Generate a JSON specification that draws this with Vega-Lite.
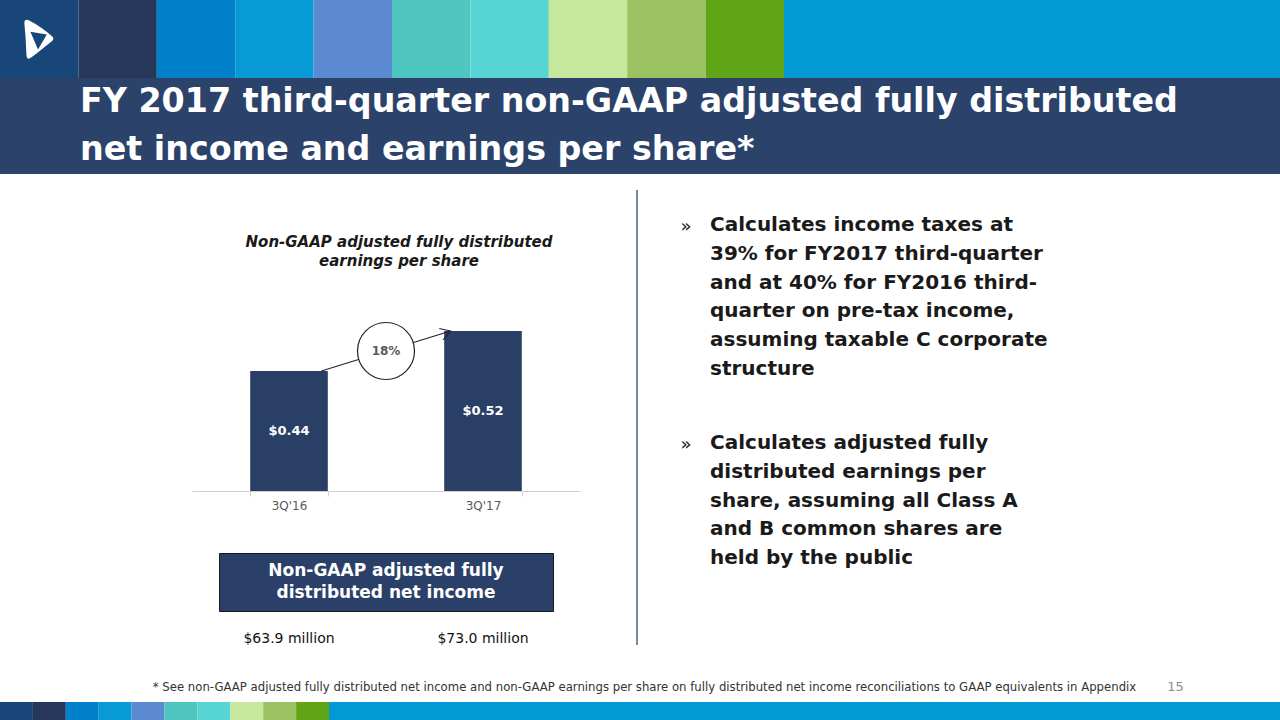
{
  "$schema": "https://vega.github.io/schema/vega-lite/v6.json",
  "padding": 0,
  "background": "#FFFFFF",
  "spacing": 0,
  "config": {
    "view": {"stroke": null},
    "font": "DejaVu Sans",
    "concat": {"spacing": 0}
  },
  "datasets": {
    "palette": [
      {"seg": "s1"}, {"seg": "s2"}, {"seg": "s3"}, {"seg": "s4"}, {"seg": "s5"},
      {"seg": "s6"}, {"seg": "s7"}, {"seg": "s8"}, {"seg": "s9"}, {"seg": "s10"}
    ],
    "eps": [
      {"period": "3Q'16", "eps": 0.44, "net_income_musd": 63.9},
      {"period": "3Q'17", "eps": 0.52, "net_income_musd": 73.0}
    ],
    "growth": [
      {"from": "3Q'16", "to": "3Q'17", "from_eps": 0.44, "to_eps": 0.52, "growth": "18%"}
    ],
    "slide_title": [
      {"line": 1, "text": "FY 2017 third-quarter non-GAAP adjusted fully distributed"},
      {"line": 2, "text": "net income and earnings per share*"}
    ],
    "bullets": [
      {"bullet": 1, "text": "Calculates income taxes at\n39% for FY2017 third-quarter\nand at 40% for FY2016 third-\nquarter on pre-tax income,\nassuming taxable C corporate\nstructure"},
      {"bullet": 2, "text": "Calculates adjusted fully\ndistributed earnings per\nshare, assuming all Class A\nand B common shares are\nheld by the public"}
    ],
    "box": [
      {"line": 1, "text": "Non-GAAP adjusted fully"},
      {"line": 2, "text": "distributed net income"}
    ],
    "footnote": [
      {"part": "note", "text": "* See non-GAAP adjusted fully distributed net income and non-GAAP earnings per share on fully distributed net income reconciliations to GAAP equivalents in Appendix"},
      {"part": "page", "text": "15"}
    ]
  },
  "vconcat": [
    {
      "hconcat": [
        {
          "width": 784,
          "height": 78,
          "layer": [
            {
              "data": {"name": "palette"},
              "mark": {"type": "rect"},
              "encoding": {
                "x": {"field": "seg", "type": "ordinal", "sort": null, "axis": null,
                      "scale": {"domain": ["s1","s2","s3","s4","s5","s6","s7","s8","s9","s10"], "paddingInner": 0, "paddingOuter": 0}},
                "color": {"field": "seg", "type": "nominal", "legend": null,
                          "scale": {"domain": ["s1","s2","s3","s4","s5","s6","s7","s8","s9","s10"],
                                    "range": ["#184679","#263759","#0081C9","#089AD7","#5C8AD0","#50C6C0","#56D5D4","#C6E89D","#9AC262","#5FA516"]}}
              }
            },
            {
              "data": {"values": [{"seg": "s1"}]},
              "mark": {"type": "point", "shape": "M -0.74 -0.78 Q -0.76 -1.04 -0.5 -0.93 Q 0.1 -0.62 0.64 -0.14 Q 0.78 -0.01 0.63 0.11 Q 0.0 0.62 -0.4 0.93 Q -0.62 1.08 -0.64 0.8 Q -0.66 0.0 -0.74 -0.78 Z M -0.44 -0.36 L -0.06 0.52 L 0.38 -0.22 Z",
                       "size": 1600, "filled": true, "fill": "#FFFFFF", "opacity": 1, "strokeWidth": 0},
              "encoding": {
                "x": {"field": "seg", "type": "ordinal", "sort": null, "axis": null}
              }
            }
          ]
        },
        {"width": 496, "height": 78, "view": {"fill": "#0399D5"}, "data": {"values": []}, "mark": "point"}
      ],
      "spacing": 0,
      "bounds": "flush"
    },
    {
      "hconcat": [
        {"width": 80, "height": 96, "view": {"fill": "#2B426B"}, "data": {"values": []}, "mark": "point"},
        {
          "width": 1200,
          "height": 96,
          "view": {"fill": "#2B426B"},
          "data": {"name": "slide_title"},
          "mark": {"type": "text", "align": "left", "baseline": "middle",
                   "fontSize": 33.3, "fontWeight": "bold", "color": "#FFFFFF", "font": "DejaVu Sans"},
          "encoding": {
            "x": {"datum": 0, "type": "quantitative", "scale": {"domain": [0, 1]}, "axis": null},
            "y": {"field": "line", "type": "ordinal", "scale": {"type": "point", "padding": 0.521}, "axis": null},
            "text": {"field": "text"}
          }
        }
      ],
      "spacing": 0,
      "bounds": "flush"
    },
    {
      "hconcat": [
        {"width": 192, "height": 498, "data": {"values": []}, "mark": "point"},
        {
          "vconcat": [
            {"width": 388, "height": 117, "data": {"values": []}, "mark": "point"},
            {
              "width": 388,
              "height": 200,
              "title": {"text": ["Non-GAAP adjusted fully distributed", "earnings per share"],
                        "anchor": "middle", "frame": "group", "offset": 22, "dx": 13,
                        "fontSize": 15, "fontWeight": "bold", "fontStyle": "italic",
                        "font": "DejaVu Sans", "color": "#1A1A1A", "lineHeight": 19},
              "data": {"name": "eps"},
              "layer": [
                {
                  "mark": {"type": "bar", "color": "#2A3F65"},
                  "encoding": {
                    "x": {"field": "period", "type": "nominal", "sort": null,
                          "scale": {"paddingInner": 0.6, "paddingOuter": 0.3},
                          "axis": {"title": null, "labelAngle": 0, "labelFontSize": 12, "labelColor": "#595959",
                                   "labelFont": "DejaVu Sans", "labelPadding": 4, "domainColor": "#D0D0D0",
                                   "tickColor": "#D0D0D0", "tickSize": 5, "tickBand": "extent"}},
                    "y": {"field": "eps", "type": "quantitative", "scale": {"domain": [0.2, 0.6]}, "axis": null},
                    "y2": {"datum": 0.2}
                  }
                },
                {
                  "mark": {"type": "text", "color": "#FFFFFF", "fontSize": 13, "fontWeight": "bold", "baseline": "middle"},
                  "encoding": {
                    "x": {"field": "period", "type": "nominal", "sort": null,
                          "scale": {"paddingInner": 0.6, "paddingOuter": 0.3}, "axis": null},
                    "y": {"field": "eps", "type": "quantitative", "scale": {"domain": [0.2, 1.0]}, "axis": null},
                    "text": {"field": "eps", "type": "quantitative", "format": "$.2f"}
                  }
                },
                {
                  "data": {"name": "growth"},
                  "mark": {"type": "rule", "color": "#222222", "strokeWidth": 1.1},
                  "encoding": {
                    "x": {"field": "from", "type": "nominal",
                          "scale": {"type": "point", "domain": ["3Q'16", "3Q'17"], "padding": 1.158}, "axis": null},
                    "x2": {"field": "to"},
                    "y": {"field": "from_eps", "type": "quantitative", "scale": {"domain": [0.2, 0.6]}, "axis": null},
                    "y2": {"field": "to_eps"}
                  }
                },
                {
                  "data": {"name": "growth"},
                  "mark": {"type": "point", "shape": "M -1 -0.6 L 0 0 L -1 0.6", "filled": false,
                           "stroke": "#222222", "strokeWidth": 1.1, "size": 400, "angle": -19, "opacity": 1},
                  "encoding": {
                    "x": {"field": "to", "type": "nominal",
                          "scale": {"type": "point", "domain": ["3Q'16", "3Q'17"], "padding": 1.158}, "axis": null},
                    "y": {"field": "to_eps", "type": "quantitative", "scale": {"domain": [0.2, 0.6]}, "axis": null}
                  }
                },
                {
                  "data": {"name": "growth"},
                  "transform": [{"fold": ["from_eps", "to_eps"], "as": ["end", "eps_value"]}],
                  "mark": {"type": "point", "shape": "circle", "size": 3249, "filled": true, "fill": "#FFFFFF",
                           "stroke": "#222222", "strokeWidth": 1.2, "opacity": 1},
                  "encoding": {
                    "y": {"aggregate": "mean", "field": "eps_value", "type": "quantitative",
                          "scale": {"domain": [0.2, 0.6]}, "axis": null}
                  }
                },
                {
                  "data": {"name": "growth"},
                  "transform": [{"fold": ["from_eps", "to_eps"], "as": ["end", "eps_value"]}],
                  "mark": {"type": "text", "color": "#595959", "fontSize": 12, "fontWeight": "bold", "baseline": "middle"},
                  "encoding": {
                    "y": {"aggregate": "mean", "field": "eps_value", "type": "quantitative",
                          "scale": {"domain": [0.2, 0.6]}, "axis": null},
                    "text": {"field": "growth"}
                  }
                }
              ],
              "resolve": {"scale": {"x": "independent", "y": "independent"}}
            },
            {"width": 388, "height": 62, "data": {"values": []}, "mark": "point"},
            {
              "width": 334,
              "height": 58,
              "view": {"fill": "#2B4068", "stroke": "#1A1A1A", "strokeWidth": 1},
              "data": {"name": "box"},
              "mark": {"type": "text", "align": "center", "baseline": "middle",
                       "fontSize": 17, "fontWeight": "bold", "color": "#FFFFFF"},
              "encoding": {
                "y": {"field": "line", "type": "ordinal", "scale": {"type": "point", "padding": 0.761}, "axis": null},
                "text": {"field": "text"}
              }
            },
            {
              "width": 388,
              "height": 56,
              "data": {"name": "eps"},
              "mark": {"type": "text", "fontSize": 14, "color": "#111111", "baseline": "middle",
                       "text": {"expr": "format(datum.net_income_musd, '$.1f') + ' million'"}},
              "encoding": {
                "x": {"field": "period", "type": "nominal", "sort": null,
                      "scale": {"paddingInner": 0.6, "paddingOuter": 0.3}, "axis": null}
              }
            }
          ],
          "spacing": 0,
          "bounds": "flush",
          "center": true
        },
        {"width": 56, "height": 498, "data": {"values": []}, "mark": "point"},
        {
          "vconcat": [
            {"width": 2, "height": 16, "data": {"values": []}, "mark": "point"},
            {"width": 2, "height": 455, "view": {"fill": "#7A88A3"}, "data": {"values": []}, "mark": "point"}
          ],
          "spacing": 0,
          "bounds": "flush"
        },
        {
          "vconcat": [
            {"width": 642, "height": 57, "data": {"values": []}, "mark": "point"},
            {
              "hconcat": [
                {"width": 72, "height": 218, "data": {"values": []}, "mark": "point"},
                {
                  "width": 570,
                  "height": 218,
                  "data": {"name": "bullets"},
                  "mark": {"type": "text", "align": "left", "baseline": "alphabetic", "lineBreak": "\n",
                           "lineHeight": 28.8, "fontSize": 20, "fontWeight": "bold", "color": "#1A1A1A"},
                  "encoding": {
                    "x": {"datum": 0, "type": "quantitative", "scale": {"domain": [0, 1]}, "axis": null},
                    "y": {"field": "bullet", "type": "ordinal", "scale": {"type": "point", "padding": 0},
                          "axis": {"title": null, "domain": false, "ticks": false, "labelExpr": "'»'",
                                   "labelAlign": "right", "labelBaseline": "alphabetic", "labelPadding": 19,
                                   "labelFontSize": 18, "labelColor": "#1A1A1A", "labelFont": "DejaVu Sans"}},
                    "text": {"field": "text"}
                  }
                }
              ],
              "spacing": 0,
              "bounds": "flush"
            }
          ],
          "spacing": 0,
          "bounds": "flush"
        }
      ],
      "spacing": 0
    },
    {
      "hconcat": [
        {"width": 144, "height": 30, "data": {"values": []}, "mark": "point"},
        {
          "width": 1001,
          "height": 30,
          "data": {"name": "footnote"},
          "transform": [{"filter": "datum.part === 'note'"}],
          "mark": {"type": "text", "fontSize": 11.7, "color": "#333333", "baseline": "middle", "align": "center"},
          "encoding": {"text": {"field": "text"}}
        },
        {"width": 10, "height": 30, "data": {"values": []}, "mark": "point"},
        {
          "width": 41,
          "height": 30,
          "data": {"name": "footnote"},
          "transform": [{"filter": "datum.part === 'page'"}],
          "mark": {"type": "text", "fontSize": 13, "color": "#8C8C8C", "baseline": "middle", "align": "center"},
          "encoding": {"text": {"field": "text"}}
        }
      ],
      "spacing": 0,
      "bounds": "flush"
    },
    {
      "hconcat": [
        {
          "width": 329,
          "height": 18,
          "data": {"name": "palette"},
          "mark": {"type": "rect"},
          "encoding": {
            "x": {"field": "seg", "type": "ordinal", "sort": null, "axis": null,
                  "scale": {"domain": ["s1","s2","s3","s4","s5","s6","s7","s8","s9","s10"], "paddingInner": 0, "paddingOuter": 0}},
            "color": {"field": "seg", "type": "nominal", "legend": null,
                      "scale": {"domain": ["s1","s2","s3","s4","s5","s6","s7","s8","s9","s10"],
                                "range": ["#184679","#263759","#0081C9","#089AD7","#5C8AD0","#50C6C0","#56D5D4","#C6E89D","#9AC262","#5FA516"]}}
          }
        },
        {"width": 951, "height": 18, "view": {"fill": "#0399D5"}, "data": {"values": []}, "mark": "point"}
      ],
      "spacing": 0,
      "bounds": "flush"
    }
  ]
}
